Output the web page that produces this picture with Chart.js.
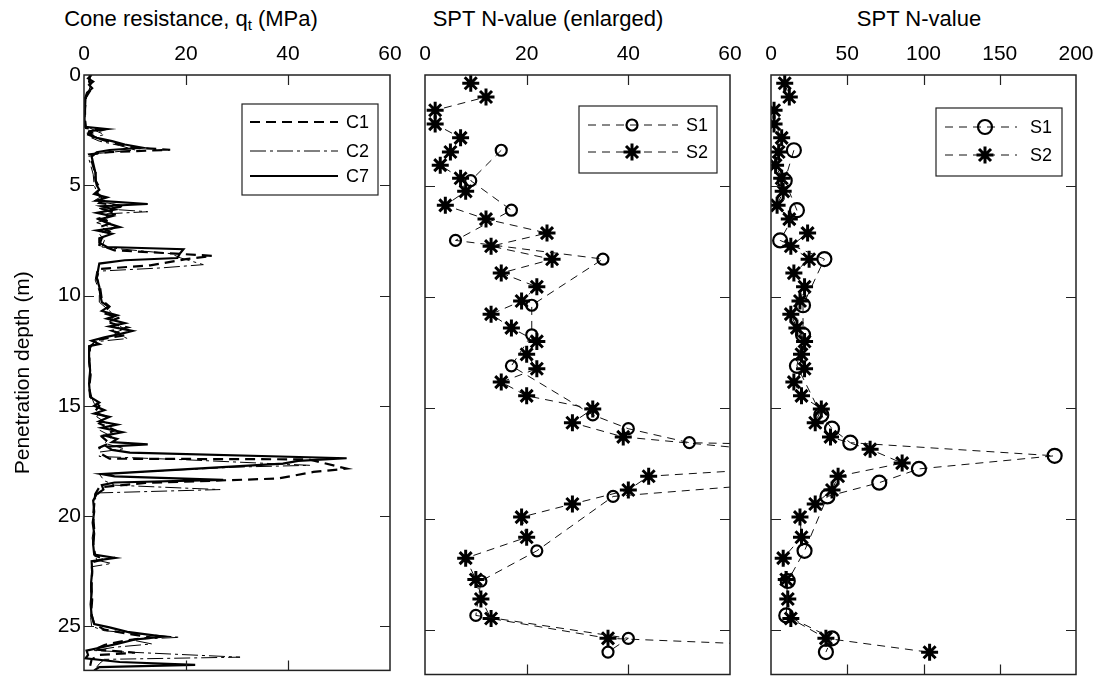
<!DOCTYPE html>
<html>
<head>
<meta charset="utf-8">
<script src="https://cdn.jsdelivr.net/npm/chart.js@4.4.1/dist/chart.umd.min.js"></script>
<style>
  body { margin: 0; background: #fff; }
  #wrap { position: relative; width: 1102px; height: 686px; overflow: hidden; font-family: "Liberation Sans", Arial, sans-serif; }
  #wrap canvas { position: absolute; left: 0; top: 0; }
  .ttl { position: absolute; top: 8px; font-size: 22px; line-height: 22px; white-space: nowrap; transform: translateX(-50%); color: #000; }
  .ttl sub { font-size: 15px; line-height: 0; vertical-align: -4px; }
</style>
</head>
<body>
<div id="wrap">
  <div class="ttl" style="left:191px">Cone resistance, q<sub>t</sub> (MPa)</div>
  <div class="ttl" style="left:548px">SPT N-value (enlarged)</div>
  <div class="ttl" style="left:919px">SPT N-value</div>
  <canvas id="cpt" width="1102" height="686"></canvas>
  <canvas id="sptZoom" width="1102" height="686"></canvas>
  <canvas id="spt" width="1102" height="686"></canvas>
</div>
<script>
// tick values
const depthTicks = [0, 5, 10, 15, 20, 25];
const qtTicks = [0, 20, 40, 60];
const nZoomTicks = [0, 20, 40, 60];
const nTicks = [0, 50, 100, 150, 200];

// CPT profiles (depth m, qt MPa)
const c1Depth = [0,0.3,0.6,1.0,1.5,2.0,2.4,2.5,2.65,2.9,3.1,3.3,3.39,3.5,3.6,3.9,4.3,4.8,5.1,5.4,5.6,5.8,5.95,6.1,6.3,6.5,6.7,6.9,7.1,7.4,7.7,7.95,8.1,8.2,8.35,8.63,8.8,9.2,9.7,10.2,10.5,10.8,11.0,11.2,11.45,11.6,11.8,12.0,12.3,13.0,13.6,14.2,14.7,15.0,15.3,15.5,15.8,16.1,16.4,16.7,16.9,17.2,17.4,17.43,17.85,18.0,18.3,18.5,18.7,19.0,19.5,20.0,20.6,21.2,21.8,21.95,22.1,22.6,23.2,23.8,24.4,24.9,25.15,25.35,25.5,25.65,25.85,26.05,26.2,26.3,26.5,27.0];
const c1Qt = [1.2,1.0,1.5,0.4,0.2,0.2,0.4,3.5,1.0,3.0,6.0,10.0,16.9,5.0,1.0,1.5,2.0,2.3,3.0,2.5,4.0,3.0,8.0,4.0,6.5,3.0,5.5,3.0,5.0,3.5,3.0,6.0,18.0,25.1,20.0,13.0,3.0,2.5,3.2,3.5,5.0,3.8,7.0,4.5,8.5,5.5,8.0,3.0,1.2,1.0,1.3,1.0,1.5,3.0,2.0,4.5,3.0,6.0,3.5,5.0,3.0,3.5,5.0,44.0,51.5,45.0,38.0,12.0,3.0,2.2,2.0,1.8,2.0,1.8,2.2,4.0,1.5,1.6,1.4,1.6,1.4,2.0,4.0,9.0,13.0,8.0,4.0,2.0,10.0,3.0,1.5,1.0];

const c2Depth = [0,0.4,0.8,1.2,1.8,2.3,2.5,2.7,2.85,3.0,3.2,3.4,3.55,3.7,4.0,4.5,5.0,5.3,5.5,5.7,5.9,6.05,6.2,6.3,6.5,6.7,6.95,7.2,7.5,7.8,7.95,8.1,8.3,8.6,8.75,8.9,9.3,9.8,10.3,10.6,10.9,11.2,11.5,11.7,11.95,12.1,12.5,13.2,13.8,14.4,14.9,15.2,15.5,15.8,16.1,16.4,16.7,16.95,17.1,17.3,17.45,17.7,17.78,17.95,18.1,18.4,18.6,18.8,18.95,19.3,19.8,20.4,21.0,21.6,22.0,22.15,22.3,22.8,23.4,24.0,24.6,25.0,25.2,25.5,25.6,25.8,25.95,26.1,26.4,26.5,26.7,27.0];
const c2Qt = [1.0,1.4,0.8,0.3,0.2,0.3,2.0,4.0,1.5,3.0,7.0,10.0,3.0,0.8,1.2,1.8,2.0,2.5,3.5,2.0,7.0,3.0,12.5,4.0,5.0,2.5,6.0,3.0,4.0,3.5,10.0,17.0,19.0,23.4,15.0,2.5,2.2,3.0,3.0,4.5,6.0,5.0,8.0,6.0,8.5,2.0,1.0,1.2,1.0,1.1,2.0,3.5,2.5,4.5,3.0,5.5,4.0,8.0,3.0,3.0,20.0,44.3,30.0,15.0,3.0,4.0,6.0,26.7,3.0,2.0,1.8,2.0,1.6,2.0,2.5,5.4,1.5,1.5,1.3,1.5,1.3,1.5,4.0,18.8,9.0,13.3,6.0,2.0,30.6,4.0,3.0,2.0];

const c7Depth = [0,0.15,0.3,0.45,0.6,0.8,1.0,1.5,2.0,2.35,2.45,2.55,2.7,2.85,3.0,3.15,3.3,3.4,3.5,3.7,4.0,4.4,4.8,5.0,5.2,5.4,5.55,5.7,5.85,5.95,6.1,6.25,6.4,6.55,6.75,6.9,7.05,7.2,7.4,7.6,7.8,7.9,8.1,8.3,8.4,8.55,8.8,9.2,9.6,10.0,10.3,10.5,10.7,10.9,11.05,11.25,11.4,11.6,11.75,11.9,12.05,12.2,12.3,12.8,13.4,14.0,14.6,14.85,15.0,15.2,15.35,15.5,15.7,15.85,16.0,16.2,16.35,16.5,16.65,16.75,16.85,17.0,17.12,17.38,17.5,17.62,18.1,18.2,18.36,18.48,18.6,18.8,19.0,19.3,19.8,20.3,20.8,21.3,21.75,21.9,22.05,22.5,23.0,23.5,24.0,24.5,24.9,25.05,25.25,25.47,25.6,25.8,25.95,26.1,26.3,26.45,26.62,26.75,26.85,27.0];
const c7Qt = [1.5,0.8,1.8,1.0,1.6,0.6,0.3,0.2,0.1,0.2,4.5,1.0,0.8,2.5,5.5,8.0,11.5,5.0,2.5,1.5,1.8,2.2,2.3,2.5,3.0,2.0,4.5,2.5,12.5,3.5,6.0,2.5,5.5,3.0,5.0,7.0,2.5,5.5,3.0,3.0,4.5,19.5,18.8,18.3,8.0,3.0,2.8,2.5,3.0,3.2,3.5,4.8,3.5,6.5,4.5,8.0,5.0,9.5,7.0,4.0,1.5,3.0,1.0,1.0,1.2,1.0,1.2,3.0,2.0,4.0,2.0,5.0,3.0,6.5,3.5,7.5,4.0,6.5,5.5,12.5,4.5,5.5,9.0,51.5,42.0,39.0,3.5,6.0,27.3,6.0,3.5,3.8,2.5,1.8,2.0,1.7,2.0,1.8,2.0,6.1,1.5,1.6,1.4,1.5,1.3,1.5,2.0,5.0,8.5,15.6,10.0,6.5,3.5,0.5,0.8,0.3,7.0,21.8,3.0,2.0];

// SPT N-values (depth m, blow count)
const s1Depth = [3.39,4.76,6.09,7.45,8.29,10.37,11.7,13.1,15.31,15.93,16.56,17.15,17.74,18.36,18.98,21.43,22.79,24.34,25.37,25.99];
const s1N = [15,9,17,6,35,21,21,17,33,40,52,186,97,71,37,22,11,10,40,36];
const s2Depth = [0.37,0.99,1.59,2.21,2.83,3.47,4.06,4.65,5.24,5.87,6.49,7.12,7.71,8.30,8.92,9.54,10.18,10.77,11.39,12.0,12.58,13.23,13.83,14.45,15.04,15.66,16.3,16.86,17.48,18.07,18.69,19.32,19.91,20.82,21.76,22.72,23.6,24.48,25.37,26.0];
const s2N = [9,12,2,2,7,5,3,7,8,4,12,24,13,25,15,22,19,13,17,22,20,22,15,20,33,29,39,65,86,44,40,29,19,20,8,10,11,13,36,104];

const FONT = '"Liberation Sans", Arial, sans-serif';
const pts = (xs, ds) => xs.map((v, i) => ({ x: v, y: ds[i] }));

// box frame with inward ticks on all four sides
const framePlugin = {
  id: 'frame',
  afterDraw(chart, args, opts) {
    const { ctx, chartArea: a, scales: { x, y } } = chart;
    ctx.save();
    ctx.strokeStyle = '#222';
    ctx.lineWidth = 1.5;
    ctx.strokeRect(a.left, a.top, a.right - a.left, a.bottom - a.top);
    ctx.lineWidth = 1.2;
    ctx.beginPath();
    opts.xTicks.slice(1, -1).forEach(v => {
      const px = Math.round(x.getPixelForValue(v)) + 0.5;
      ctx.moveTo(px, a.top); ctx.lineTo(px, a.top + 10);
      ctx.moveTo(px, a.bottom); ctx.lineTo(px, a.bottom - 10);
    });
    depthTicks.slice(1).forEach(v => {
      const py = Math.round(y.getPixelForValue(v)) + 0.5;
      ctx.moveTo(a.left, py); ctx.lineTo(a.left + 10, py);
      ctx.moveTo(a.right, py); ctx.lineTo(a.right - 10, py);
    });
    ctx.stroke();
    ctx.restore();
  }
};

function drawMarker(ctx, style, x, y, r, w) {
  ctx.lineWidth = w;
  ctx.beginPath();
  if (style === 'circle') {
    ctx.arc(x, y, r, 0, Math.PI * 2);
  } else {
    for (let k = 0; k < 4; k++) {
      const ang = k * Math.PI / 4;
      ctx.moveTo(x - Math.cos(ang) * r, y - Math.sin(ang) * r);
      ctx.lineTo(x + Math.cos(ang) * r, y + Math.sin(ang) * r);
    }
  }
  ctx.stroke();
}

// legend box drawn inside the plot
const boxLegend = {
  id: 'boxLegend',
  afterDraw(chart, args, opts) {
    const ctx = chart.ctx;
    const [bx, by, bw, bh] = opts.box;
    ctx.save();
    ctx.fillStyle = '#fff';
    ctx.fillRect(bx, by, bw, bh);
    ctx.strokeStyle = '#222';
    ctx.lineWidth = 1.2;
    ctx.strokeRect(bx, by, bw, bh);
    chart.data.datasets.forEach((ds, i) => {
      const it = opts.items[i];
      ctx.strokeStyle = ds.borderColor;
      ctx.lineWidth = ds.borderWidth;
      ctx.setLineDash(ds.borderDash || []);
      ctx.beginPath();
      ctx.moveTo(opts.x0, it.y); ctx.lineTo(opts.x1, it.y);
      ctx.stroke();
      ctx.setLineDash([]);
      if (ds.pointRadius > 0) {
        ctx.strokeStyle = '#000';
        drawMarker(ctx, ds.pointStyle, opts.xm, it.y, ds.pointRadius, ds.pointBorderWidth);
      }
      ctx.fillStyle = '#000';
      ctx.font = '18px ' + FONT;
      ctx.textBaseline = 'middle';
      ctx.fillText(ds.label, opts.xt, it.y + 1);
    });
    ctx.restore();
  }
};

function xScale(min, max, ticks) {
  return {
    type: 'linear', position: 'top', min, max,
    afterBuildTicks: s => { s.ticks = ticks.map(v => ({ value: v })); },
    afterFit: s => { s.height = 75; },
    grid: { display: false, drawTicks: false },
    border: { display: false },
    ticks: { autoSkip: false, maxRotation: 0, padding: 8, color: '#000', font: { family: FONT, size: 21 } }
  };
}

function yScale(withLabels) {
  return {
    type: 'linear', reverse: true, min: 0, max: 27,
    afterBuildTicks: s => { s.ticks = depthTicks.map(v => ({ value: v })); },
    afterFit: s => { s.width = withLabels ? 84 : 0; },
    grid: { display: false, drawTicks: false },
    border: { display: false },
    ticks: { display: withLabels, padding: 3, color: '#000', font: { family: FONT, size: 21 } },
    title: { display: withLabels, text: 'Penetration depth (m)', color: '#000', font: { family: FONT, size: 21 }, padding: { top: 11, bottom: 0 } }
  };
}

function makeChart(id, datasets, x, withLabels, pad, legend, xTicks) {
  return new Chart(document.getElementById(id), {
    type: 'scatter',
    data: { datasets },
    options: {
      responsive: false, animation: false, events: [],
      layout: { padding: pad },
      scales: { x, y: yScale(withLabels) },
      plugins: { legend: { display: false }, tooltip: { enabled: false }, frame: { xTicks }, boxLegend: legend }
    },
    plugins: [framePlugin, boxLegend]
  });
}

const cptSets = [
  { label: 'C1', data: pts(c1Qt, c1Depth), borderColor: '#000', borderWidth: 2.2, borderDash: [10, 6] },
  { label: 'C2', data: pts(c2Qt, c2Depth), borderColor: '#000', borderWidth: 1, borderDash: [16, 4, 3, 4] },
  { label: 'C7', data: pts(c7Qt, c7Depth), borderColor: '#000', borderWidth: 2.2 }
].map(d => Object.assign({ showLine: true, pointRadius: 0, tension: 0 }, d));

function sptSets(circleR, starR) {
  return [
    { label: 'S1', data: pts(s1N, s1Depth), pointStyle: 'circle', pointRadius: circleR, pointBorderWidth: 2.2 },
    { label: 'S2', data: pts(s2N, s2Depth), pointStyle: 'star', pointRadius: starR, pointBorderWidth: 3 }
  ].map(d => Object.assign({
    showLine: true, tension: 0, borderColor: '#111', borderWidth: 1, borderDash: [8, 6],
    pointBackgroundColor: 'rgba(0,0,0,0)', pointBorderColor: '#000'
  }, d));
}

makeChart('cpt', cptSets, xScale(0, 60, qtTicks), true,
  { left: 0, right: 1102 - 390, top: 0, bottom: 2 },
  { box: [242, 104, 136, 91], x0: 250, x1: 338, xm: 294, xt: 346, items: [{ y: 122 }, { y: 151 }, { y: 176 }] },
  qtTicks);

makeChart('sptZoom', sptSets(5.5, 8.5), xScale(0, 60, nZoomTicks), false,
  { left: 425, right: 1102 - 730, top: 0, bottom: 2 },
  { box: [579, 106, 138, 67], x0: 588, x1: 678, xm: 632, xt: 686, items: [{ y: 125 }, { y: 152 }] },
  nZoomTicks);

makeChart('spt', sptSets(7, 8.5), xScale(0, 200, nTicks), false,
  { left: 771, right: 1102 - 1076, top: 0, bottom: 2 },
  { box: [936, 108, 126, 68], x0: 945, x1: 1017, xm: 985, xt: 1030, items: [{ y: 127 }, { y: 155 }] },
  nTicks);
</script>
</body>
</html>
